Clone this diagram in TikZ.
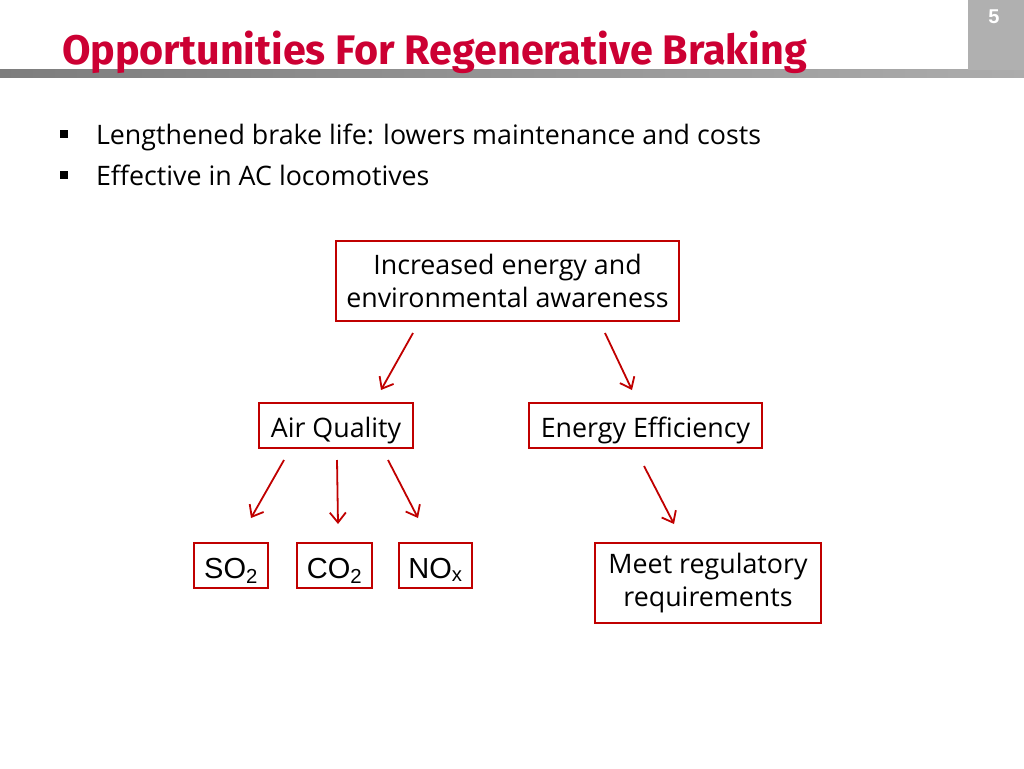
\documentclass[tikz,border=0pt]{standalone}
\usepackage{fontspec}
\setmainfont{Open Sans}
\newfontfamily\titlefont{Fira Sans}
\newfontfamily\arialfont{Liberation Sans}
\usetikzlibrary{arrows.meta,positioning,calc}
\definecolor{titlered}{RGB}{204,0,51}
\definecolor{boxred}{RGB}{192,0,0}
\definecolor{pagegray}{RGB}{176,176,176}
\definecolor{barleft}{RGB}{125,125,125}
\definecolor{barright}{RGB}{172,172,172}

\begin{document}
\begin{tikzpicture}[x=1pt, y=1pt,
    every node/.style={inner sep=0pt, outer sep=0pt},
    redbox/.style={draw=boxred, line width=1.6pt, align=center,
      font=\fontsize{26.8}{33.5}\selectfont},
    onelinebox/.style={redbox, minimum height=45pt, text height=24pt, text depth=0pt},
    gasbox/.style={redbox, font=\arialfont\fontsize{29}{30}\selectfont,
      minimum height=45pt, text height=25pt, text depth=0pt},
    arrowline/.style={boxred, line width=1.8pt,
      -{Straight Barb[length=10pt,width=16pt,line width=1.8pt]}},
    bulletsq/.style={fill=black, minimum size=7.5pt},
    bullettext/.style={anchor=base west, font=\fontsize{26.8}{30}\selectfont}]
  \useasboundingbox (0,0) rectangle (1024,-768);

  % header bar and page number
  \shade[left color=barleft, right color=barright] (0,-69) rectangle (1024,-77);
  \fill[pagegray] (968,0) rectangle (1024,-70);
  \node[text=white, font=\arialfont\bfseries\fontsize{20}{20}\selectfont] (pnum) at (994,-17) {5};
  \node[anchor=base west, text=titlered, font=\titlefont\bfseries\fontsize{41.3}{42}\selectfont]
    (title) at (62,-64) {Opportunities For Regenerative Braking};

  % bullets
  \node[bulletsq] (b1) at (64,-134) {};
  \node[bullettext] (l1) at (96,-144) {Lengthened brake life: lowers maintenance and costs};
  \node[bulletsq] (b2) at (64,-175) {};
  \node[bullettext] (l2) at (96,-185) {Effective in AC locomotives};

  % tree of boxes
  \node[redbox, minimum width=343pt, minimum height=80pt] (aware) at (507.5,-281)
    {Increased energy and\\environmental awareness};
  \node[onelinebox, minimum width=154pt] (air) at (336,-425.5) {Air Quality};
  \node[onelinebox, minimum width=233pt] (energy) at (645.5,-425.5) {Energy Efficiency};
  \node[gasbox, minimum width=74pt] (so2) at (231,-565.5) {SO\textsubscript{2}};
  \node[gasbox, minimum width=75pt] (co2) at (334.5,-565.5) {CO\textsubscript{2}};
  \node[gasbox, minimum width=73pt] (nox) at (435.5,-565.5) {NO\textsubscript{x}};
  \node[redbox, minimum width=226pt, minimum height=80pt] (meet) at (708,-583)
    {Meet regulatory\\requirements};

  % arrows, drawn with a gap to the boxes
  \draw[arrowline] ([shift={(77,-12)}]aware.south west) -- ([shift={(45,13)}]air.north);
  \draw[arrowline] ([shift={(-74,-12)}]aware.south east) -- ([shift={(-13.5,13)}]energy.north);
  \draw[arrowline] ([shift={(-52,-12)}]air.south) -- ([shift={(20,25)}]so2.north);
  \draw[arrowline] ([shift={(1,-12)}]air.south) -- ([shift={(3.5,19)}]co2.north);
  \draw[arrowline] ([shift={(52,-12)}]air.south) -- ([shift={(-17.5,25)}]nox.north);
  \draw[arrowline] ([shift={(-1.5,-18)}]energy.south) -- ([shift={(-34,19)}]meet.north);
\end{tikzpicture}
\end{document}
